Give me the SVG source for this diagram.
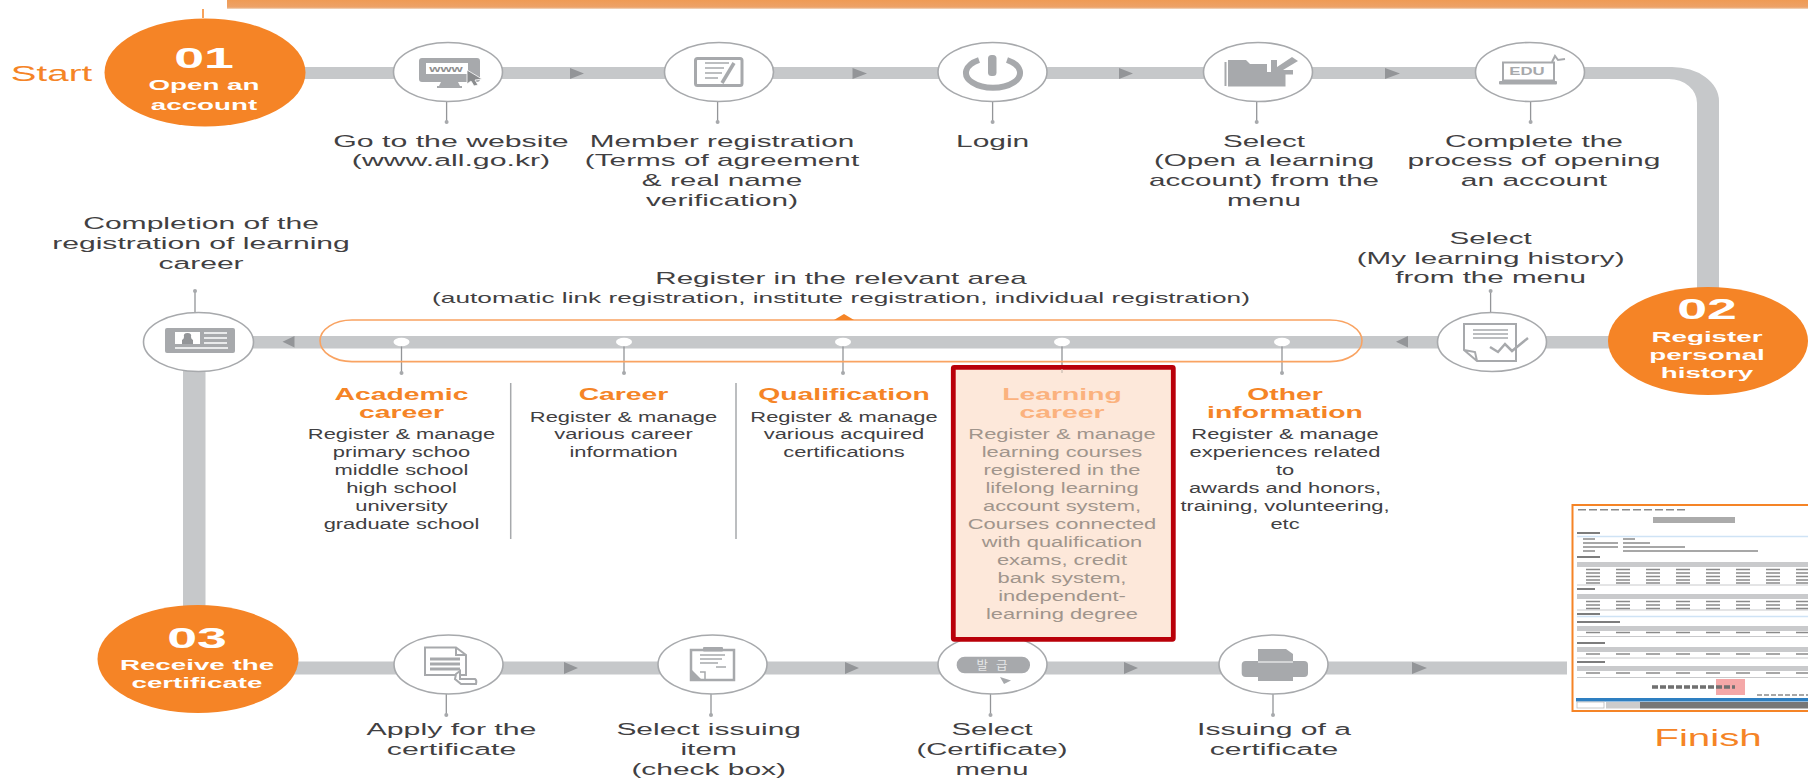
<svg xmlns="http://www.w3.org/2000/svg" width="1808" height="778" viewBox="0 0 1808 778">
<style>
text{font-family:"Liberation Sans",Arial,sans-serif;text-anchor:middle}
.t{font-size:17px;fill:#414042}
.b{font-size:15px;fill:#414042}
.h{font-size:16px;font-weight:700;fill:#f58426}
.bm{font-size:15px;fill:#a0958c}
.hm{font-size:16px;font-weight:700;fill:#fbb27e}
.w{font-size:15px;font-weight:700;fill:#fff}
.n{font-size:29px;font-weight:700;fill:#fff}
.o{fill:#f58426}
.bar{fill:#c6c8ca}
.arr{fill:#939598}
.ic{fill:#fff;stroke:#a7a9ac;stroke-width:1.6}
.g{fill:#a7a9ac}
.gs{fill:none;stroke:#a7a9ac;stroke-width:3}
.l{stroke:#939598;stroke-width:1.3;fill:none}
.dot{fill:#a7a9ac}
.wd{fill:#fff}
.div{stroke:#a7a9ac;stroke-width:1.5}
.cs{fill:#8f8f8f}
.ctx{fill:none;stroke:#8a8a8a;stroke-width:1.5;stroke-dasharray:14 16}
.chd{fill:#c9cacc}
.cbl{stroke:#cfe3f5;stroke-width:1.5}
</style>
<defs>
<linearGradient id="band" x1="0" y1="0" x2="0" y2="1"><stop offset="0" stop-color="#ef9b55"/><stop offset=".8" stop-color="#eda268"/><stop offset="1" stop-color="#f0dcc8"/></linearGradient>
<filter id="soft" x="-2%" y="-2%" width="104%" height="104%"><feGaussianBlur stdDeviation="0.5"/></filter>
</defs>

<rect x="227" y="0" width="1581" height="9" fill="url(#band)"/>
<path d="M203 9V18" stroke="#f58426" stroke-width="1.5"/>

<g id="connectors">
<path class="bar" d="M205 67H1672A47 34 0 0 1 1719 101V342H1697V103A28 24 0 0 0 1669 79H205Z"/>
<rect class="bar" x="198" y="336" width="1510" height="12.500"/>
<rect class="bar" x="183" y="342" width="22.500" height="320"/>
<rect class="bar" x="198" y="661.500" width="1369" height="13"/>
<path class="arr" d="M570 68L584 73.500L570 79ZM852.500 68L867 73.500L852.500 79ZM1119 68L1133 73.500L1119 79ZM1385 68L1400 73.500L1385 79Z"/>
<path class="arr" d="M1408 336V347.500L1396 341.700ZM294.500 336V347.500L282.500 341.700Z"/>
<path class="arr" d="M564 662L578 668L564 674ZM845 662L859 668L845 674ZM1124 662L1138 668L1124 674ZM1412 662L1427 668L1412 674Z"/>
<path class="l" d="M446.600 101V121M717.600 101V121M992.600 101V121M1256.700 101V121M1530.600 101V121M195 291V312M1490.600 291V312M401.500 342V373M624 342V373M843 342V373M1062 342V365M1282 342V373M446.300 694V715M711 694V715M990.500 694V715M1273 694V715"/>
<g class="dot">
<circle cx="446.600" cy="122" r="2"/><circle cx="717.600" cy="122" r="2"/><circle cx="992.600" cy="122" r="2"/><circle cx="1256.700" cy="122" r="2"/><circle cx="1530.600" cy="122" r="2"/>
<circle cx="195" cy="291" r="2"/><circle cx="1490.600" cy="291" r="2"/>
<circle cx="401.500" cy="373" r="2"/><circle cx="624" cy="373" r="2"/><circle cx="843" cy="373" r="2"/><circle cx="1282" cy="373" r="2"/>
<circle cx="446.300" cy="715" r="2"/><circle cx="711" cy="715" r="2"/><circle cx="990.500" cy="715" r="2"/><circle cx="1273" cy="715" r="2"/>
</g>
<path class="div" d="M510.700 383V539M736 383V539"/>
</g>

<g id="register-capsule">
<path d="M352 320H1330A32 20.800 0 0 1 1362 340.800A32 20.800 0 0 1 1330 361.600H352A32 20.800 0 0 1 320 340.800A32 20.800 0 0 1 352 320Z" fill="none" stroke="#f9a362" stroke-width="1.600"/>
<path d="M834 320L844 314L854 320Z" fill="#f58426"/>
<g class="wd"><ellipse cx="401.500" cy="342" rx="8" ry="4.200"/><ellipse cx="624" cy="342" rx="8" ry="4.200"/><ellipse cx="843" cy="342" rx="8" ry="4.200"/><ellipse cx="1062" cy="342" rx="8" ry="4.200"/><ellipse cx="1282" cy="342" rx="8" ry="4.200"/></g>
<text class="t" transform="matrix(1.74 0 0 1 841 284.300)">Register in the relevant area</text>
<text class="t" transform="matrix(1.75 0 0 1 841 302.500)" style="font-size:15px">(automatic link registration, institute registration, individual registration)</text>
</g>

<g id="start"><text transform="matrix(1.75 0 0 1 51.500 81)" style="font-size:22px;fill:#f58426">Start</text></g>

<g id="step-01">
<ellipse class="o" cx="205" cy="72.500" rx="100.500" ry="54"/>
<text class="n" transform="matrix(1.85 0 0 1 204 68)">01</text>
<text class="w" transform="matrix(1.85 0 0 1 204 89.500)">Open an</text>
<text class="w" transform="matrix(1.85 0 0 1 204 110)">account</text>
</g>

<g id="go-website">
<ellipse class="ic" cx="448" cy="72" rx="54.500" ry="29.500"/>
<path class="g" d="M422 58H477Q480 58 480 61V79Q480 82 477 82H458L460 86H462V88H437V86H439L441 82H422Q419 82 419 79V61Q419 58 422 58Z"/>
<rect x="426" y="63" width="42" height="11" fill="#fff"/>
<text transform="matrix(1.6 0 0 1 446 72)" style="font-size:9px;font-weight:700;fill:#8f8f8f">www</text>
<path d="M467 70L482 79L475 80L478 85L474 86L471 81L467 84Z" fill="#8a8c8e" stroke="#fff" stroke-width=".8"/>
<text class="t" transform="matrix(1.78 0 0 1 451 146.500)">Go to the website<tspan x="0" dy="20">(www.all.go.kr)</tspan></text>
</g>

<g id="member-registration">
<ellipse class="ic" cx="719" cy="72" rx="54.500" ry="29.500"/>
<rect class="gs" x="695.500" y="58.500" width="46.500" height="27" rx="2"/>
<path class="gs" style="stroke-width:1.600" d="M705 63H729M705 68H724M705 73H722M705 78H718"/>
<path d="M734 63L722 83" stroke="#a7a9ac" stroke-width="3.500" fill="none"/>
<text class="t" transform="matrix(1.75 0 0 1 722 146.500)">Member registration<tspan x="0" dy="20">(Terms of agreement</tspan><tspan x="0" dy="20">&amp; real name</tspan><tspan x="0" dy="19.500">verification)</tspan></text>
</g>

<g id="login">
<ellipse class="ic" cx="992.500" cy="72" rx="54.500" ry="29.500"/>
<path d="M979 60A27 15 0 1 0 1007 60" fill="none" stroke="#a7a9ac" stroke-width="6"/>
<rect class="g" x="988" y="55" width="8.500" height="21" rx="3.500"/>
<text class="t" transform="matrix(1.76 0 0 1 992.600 146.500)">Login</text>
</g>

<g id="select-open">
<ellipse class="ic" cx="1258" cy="72" rx="54.500" ry="29.500"/>
<path class="g" d="M1228 60H1246L1250 64H1267V72H1285.500V86.500H1228Z"/>
<rect class="g" x="1224.500" y="62" width="2" height="24"/>
<path class="g" d="M1292 57L1298 61L1283 70L1293 70V74.500H1271V60H1277V67Z"/>
<text class="t" transform="matrix(1.74 0 0 1 1264 146.500)">Select<tspan x="0" dy="20">(Open a learning</tspan><tspan x="0" dy="20">account) from the</tspan><tspan x="0" dy="19.500">menu</tspan></text>
</g>

<g id="complete-account">
<ellipse class="ic" cx="1530" cy="72" rx="54.500" ry="29.500"/>
<rect class="gs" style="stroke-width:2" x="1503" y="62.500" width="51" height="18"/>
<rect class="g" x="1499" y="81" width="58" height="3.500" rx="1"/>
<text transform="matrix(1.6 0 0 1 1527 75)" style="font-size:10.500px;font-weight:700;fill:#a7a9ac">EDU</text>
<path d="M1552 62L1555 56L1558 60L1565 59" fill="none" stroke="#a7a9ac" stroke-width="2"/>
<text class="t" transform="matrix(1.76 0 0 1 1534 146.500)">Complete the<tspan x="0" dy="20">process of opening</tspan><tspan x="0" dy="20">an account</tspan></text>
</g>

<g id="step-02">
<ellipse class="o" cx="1708" cy="341" rx="100" ry="54"/>
<text class="n" transform="matrix(1.85 0 0 1 1707 319.300)">02</text>
<text class="w" transform="matrix(1.85 0 0 1 1707 341.700)">Register</text>
<text class="w" transform="matrix(1.85 0 0 1 1707 359.700)">personal</text>
<text class="w" transform="matrix(1.85 0 0 1 1707 377.700)">history</text>
</g>

<g id="select-history">
<ellipse class="ic" cx="1492" cy="342" rx="54.500" ry="29.500"/>
<path class="gs" style="stroke-width:2" d="M1464 324H1516V361H1477L1464 350ZM1464 350L1475 352L1477 361"/>
<path class="gs" style="stroke-width:1.500" d="M1473 330H1508M1473 334H1508M1473 338H1508"/>
<path class="gs" style="stroke-width:2.500" d="M1490 347L1498 352L1505 344L1512 351L1528 338"/>
<text class="t" transform="matrix(1.74 0 0 1 1490.600 244)">Select<tspan x="0" dy="20">(My learning history)</tspan><tspan x="0" dy="19">from the menu</tspan></text>
</g>

<g id="completion">
<ellipse class="ic" cx="198.500" cy="342" rx="55" ry="29.500"/>
<rect class="g" x="165" y="328" width="70" height="25" rx="2"/>
<rect x="175" y="332" width="25" height="12" fill="#fff"/>
<path d="M182 344V340Q184 339 184 337Q183 333 187.500 333Q192 333 191 337Q191 339 193 340V344Z" fill="#939598"/>
<path d="M204 333H227M204 338H227M204 343H227M175 348H228" stroke="#fff" stroke-width="1.500"/>
<text class="t" transform="matrix(1.77 0 0 1 201 229)">Completion of the<tspan x="0" dy="20">registration of learning</tspan><tspan x="0" dy="20.300">career</tspan></text>
</g>

<g id="academic-career">
<text class="h" transform="matrix(1.77 0 0 1 401.500 400)">Academic<tspan x="0" dy="18.300">career</tspan></text>
<text class="b" transform="matrix(1.46 0 0 1 401.500 439)">Register &amp; manage<tspan x="0" dy="18">primary schoo</tspan><tspan x="0" dy="18">middle school</tspan><tspan x="0" dy="18">high school</tspan><tspan x="0" dy="18">university</tspan><tspan x="0" dy="18">graduate school</tspan></text>
</g>

<g id="career">
<text class="h" transform="matrix(1.77 0 0 1 623.500 400)">Career</text>
<text class="b" transform="matrix(1.46 0 0 1 623.500 421.500)">Register &amp; manage<tspan x="0" dy="18">various career</tspan><tspan x="0" dy="18">information</tspan></text>
</g>

<g id="qualification">
<text class="h" transform="matrix(1.77 0 0 1 844 400)">Qualification</text>
<text class="b" transform="matrix(1.46 0 0 1 844 421.500)">Register &amp; manage<tspan x="0" dy="18">various acquired</tspan><tspan x="0" dy="18">certifications</tspan></text>
</g>

<g id="other-information">
<text class="h" transform="matrix(1.77 0 0 1 1285 400)">Other<tspan x="0" dy="18.300">information</tspan></text>
<text class="b" transform="matrix(1.46 0 0 1 1285 439)">Register &amp; manage<tspan x="0" dy="18">experiences related</tspan><tspan x="0" dy="18">to</tspan><tspan x="0" dy="18">awards and honors,</tspan><tspan x="0" dy="18">training, volunteering,</tspan><tspan x="0" dy="18">etc</tspan></text>
</g>

<g id="step-03">
<ellipse class="o" cx="198" cy="659" rx="100.500" ry="54"/>
<text class="n" transform="matrix(1.85 0 0 1 197 648.300)">03</text>
<text class="w" transform="matrix(1.85 0 0 1 197 670)">Receive the</text>
<text class="w" transform="matrix(1.85 0 0 1 197 687.700)">certificate</text>
</g>

<g id="apply">
<ellipse class="ic" cx="448.500" cy="664.500" rx="54.500" ry="29.500"/>
<path class="gs" style="stroke-width:2" d="M425 647.500H456L466 655V675H425ZM456 647.500V655H466"/>
<path class="gs" d="M430 659H460M430 664H460M430 669H460"/>
<path d="M456 674L460 671V679H475Q477 680 476 684H461L455 679Z" fill="#fff" stroke="#a7a9ac" stroke-width="2"/>
<text class="t" transform="matrix(1.78 0 0 1 451.500 735)">Apply for the<tspan x="0" dy="20.300">certificate</tspan></text>
</g>

<g id="select-item">
<ellipse class="ic" cx="712.500" cy="664.500" rx="54.500" ry="29.500"/>
<rect class="gs" style="stroke-width:2.500" x="691" y="650" width="43" height="30"/>
<rect class="g" x="703" y="647" width="20" height="4.500" rx="1"/>
<path class="gs" style="stroke-width:1.500" d="M700 655H725M700 659H722M716 667H726M700 663H718"/>
<path class="g" d="M690 668L703 681H690Z"/><path d="M700 672H705V681" fill="none" stroke="#a7a9ac" stroke-width="1.500"/>
<text class="t" transform="matrix(1.76 0 0 1 708.700 735)">Select issuing<tspan x="0" dy="20.300">item</tspan><tspan x="0" dy="20">(check box)</tspan></text>
</g>

<g id="select-certificate">
<ellipse class="ic" cx="992.500" cy="664.500" rx="54.500" ry="29.500"/>
<rect class="g" x="956.700" y="656.700" width="73.300" height="16.600" rx="8"/>
<text transform="translate(996 670)" style="font-family:'Noto Sans CJK KR',sans-serif;font-size:12.500px;fill:#e6e7e8;letter-spacing:8px">발급</text>
<path d="M1000 677L1011 680.500L1004 684Z" fill="#a7a9ac"/>
<text class="t" transform="matrix(1.72 0 0 1 992 735)">Select<tspan x="0" dy="20.300">(Certificate)</tspan><tspan x="0" dy="20">menu</tspan></text>
</g>

<g id="issuing">
<ellipse class="ic" cx="1273.500" cy="664.500" rx="54.500" ry="29.500"/>
<path class="g" d="M1258 649H1286L1293 654V662H1258Z"/>
<rect class="g" x="1241.700" y="661" width="66.300" height="16" rx="4"/>
<rect class="g" x="1258" y="677" width="35" height="4"/>
<path d="M1258 662H1293" stroke="#fff" stroke-width="1"/>
<text class="t" transform="matrix(1.77 0 0 1 1274 735)">Issuing of a<tspan x="0" dy="20">certificate</tspan></text>
</g>

<g id="learning-career">
<rect x="953.300" y="367.300" width="220" height="272" rx="1" fill="#fde8da" stroke="#b90009" stroke-width="4.800"/>
<path d="M1062 369V373" stroke="#cdbfb4" stroke-width="1.300"/>
<text class="hm" transform="matrix(1.77 0 0 1 1062 400)">Learning<tspan x="0" dy="18.300">career</tspan></text>
<text class="bm" transform="matrix(1.46 0 0 1 1062 439)">Register &amp; manage<tspan x="0" dy="18">learning courses</tspan><tspan x="0" dy="18">registered in the</tspan><tspan x="0" dy="18">lifelong learning</tspan><tspan x="0" dy="18">account system,</tspan><tspan x="0" dy="18">Courses connected</tspan><tspan x="0" dy="18">with qualification</tspan><tspan x="0" dy="18">exams, credit</tspan><tspan x="0" dy="18">bank system,</tspan><tspan x="0" dy="18">independent-</tspan><tspan x="0" dy="18">learning degree</tspan></text>
</g>

<g id="certificate">
<rect x="1572.500" y="505" width="240" height="206" fill="#fff" stroke="#f58426" stroke-width="2"/>
<g filter="url(#soft)">
<path class="ctx" style="stroke-dasharray:8 3" d="M1578 509.700H1685"/>
<rect class="cs" x="1653" y="517" width="82" height="6" opacity=".75"/>
<path class="cbl" d="M1577 536.500H1808M1577 616.500H1808"/>
<path d="M1577 533H1600M1577 557H1600M1577 589H1595M1577 614H1600M1577 622H1620M1577 643H1605M1577 662H1605" stroke="#7d7d7d" stroke-width="2"/>
<path class="ctx" style="stroke-dasharray:none" d="M1583 539H1595M1583 543H1618M1583 547H1618M1583 551H1595M1623 539H1635M1623 543H1650M1623 547H1685M1623 551H1758"/>
<rect class="chd" x="1577" y="562" width="231" height="5"/>
<path class="ctx" d="M1586 569.500H1808M1586 573H1808M1586 576.500H1808M1586 580H1808M1586 583H1808"/>
<path d="M1577 585H1808M1577 610H1808M1577 636.500H1808M1577 658H1808M1577 677.500H1808" stroke="#c9cacc" stroke-width="1"/>
<rect class="chd" x="1577" y="594" width="231" height="5"/>
<path class="ctx" d="M1586 601.500H1808M1586 605H1808M1586 608.500H1808"/>
<rect class="chd" x="1577" y="626" width="231" height="5"/>
<path class="ctx" d="M1586 632.500H1808"/>
<rect class="chd" x="1577" y="647" width="231" height="5"/>
<path class="ctx" d="M1586 654H1808"/>
<rect class="chd" x="1577" y="666" width="231" height="5"/>
<path class="ctx" d="M1586 673H1808"/>
<rect x="1716" y="679" width="29" height="16" fill="#f4a8a8"/>
<path d="M1652 687H1735" stroke="#6f6f6f" stroke-width="3.500" stroke-dasharray="6 2"/>
<path class="ctx" style="stroke-dasharray:5 2" d="M1757 695H1808"/>
<rect x="1576" y="698" width="232" height="3.500" fill="#2f7fc1"/>
<rect x="1577" y="702" width="27" height="6" fill="#fff" stroke="#bbb" stroke-width=".8"/>
<rect x="1606" y="702" width="34" height="6.500" fill="#ccc"/>
<rect x="1640" y="702" width="168" height="6.500" fill="#777"/>
</g>
</g>
<g id="finish"><text transform="matrix(1.68 0 0 1 1708 746)" style="font-size:24px;fill:#f58426">Finish</text></g>
</svg>
